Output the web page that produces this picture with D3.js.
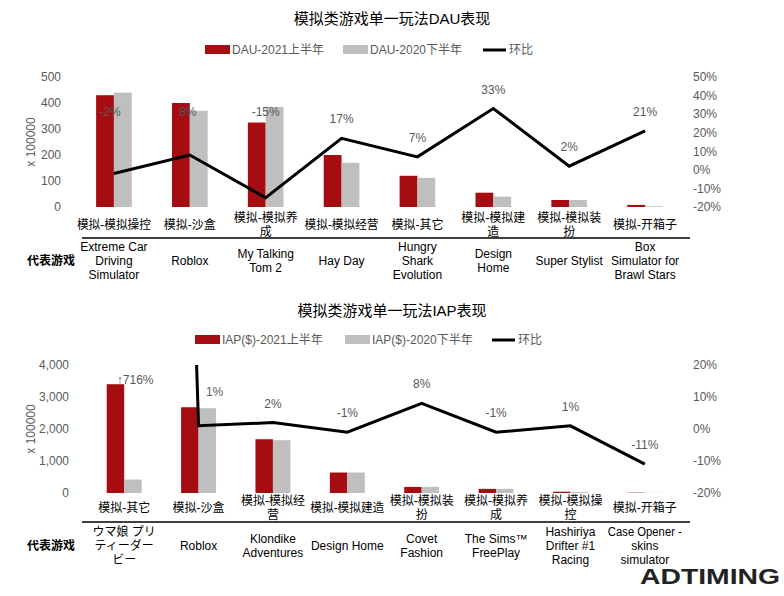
<!DOCTYPE html><html><head><meta charset="utf-8">
<script src="https://cdn.jsdelivr.net/npm/d3@7"></script>
<style>body{margin:0;background:#fff}text{font-family:"Liberation Sans","Noto Sans CJK SC",sans-serif}</style></head><body>
<svg id="c" width="784" height="596"></svg>
<script>
const dauCats=["模拟-模拟操控","模拟-沙盒","模拟-模拟养\n成","模拟-模拟经营","模拟-其它","模拟-模拟建\n造","模拟-模拟装\n扮","模拟-开箱子"];
const dauGames=[["Extreme Car","Driving","Simulator"],["Roblox"],["My Talking","Tom 2"],["Hay Day"],["Hungry","Shark","Evolution"],["Design","Home"],["Super Stylist"],["Box","Simulator for","Brawl Stars"]];
const dau2021=[430,400,325,200,120,55,27,8];
const dau2020=[440,370,385,170,112,40,27,3];
const dauRatio=[-2,8,-15,17,7,33,2,21];
const iapCats=["模拟-其它","模拟-沙盒","模拟-模拟经\n营","模拟-模拟建造","模拟-模拟装\n扮","模拟-模拟养\n成","模拟-模拟操\n控","模拟-开箱子"];
const iapGames=[["ウマ娘 プリ","ティーダー","ビー"],["Roblox"],["Klondike","Adventures"],["Design Home"],["Covet","Fashion"],["The Sims™","FreePlay"],["Hashiriya","Drifter #1","Racing"],["Case Opener -","skins","simulator"]];
const iap2021=[3400,2680,1680,640,190,130,40,10];
const iap2020=[420,2650,1650,640,190,130,30,5];
const iapRatio=[716,1,2,-1,8,-1,1,-11];
const dauTicks=[0,100,200,300,400,500], dauRTicks=[-20,-10,0,10,20,30,40,50];
const iapTicks=[0,1000,2000,3000,4000], iapRTicks=[-20,-10,0,10,20];

const svg=d3.select("#c");
const RED="#a50d12",GRAY="#bfbfbf",TXT="#595959";
function fit(sel,maxW){sel.each(function(){const w=this.getComputedTextLength();if(w>maxW){d3.select(this).attr("textLength",maxW).attr("lengthAdjust","spacingAndGlyphs");}});}
function panel(o){
 const g=svg.append("g");
 const x=d3.scaleBand().domain(d3.range(8)).range([o.x0,o.x1]).paddingInner(0.53).paddingOuter(0.265);
 const y=d3.scaleLinear().domain([0,o.max]).range([o.yb,o.yt]);
 const yr=d3.scaleLinear().domain(o.rdom).range([o.yb,o.yt]);
 g.append("text").attr("x",392).attr("y",o.ty).attr("text-anchor","middle").attr("font-size",15).attr("fill","#000").text(o.title);
 const L=o.leg;
 g.append("rect").attr("x",L[0]).attr("y",o.ly-5).attr("width",25).attr("height",9).attr("fill",RED);
 g.append("text").attr("x",L[0]+27).attr("y",o.ly+4).attr("font-size",12).attr("fill",TXT).text(o.l1);
 g.append("rect").attr("x",L[1]).attr("y",o.ly-5).attr("width",25).attr("height",9).attr("fill",GRAY);
 g.append("text").attr("x",L[1]+27).attr("y",o.ly+4).attr("font-size",12).attr("fill",TXT).text(o.l2);
 g.append("line").attr("x1",L[2]).attr("x2",L[2]+23).attr("y1",o.ly).attr("y2",o.ly).attr("stroke","#000").attr("stroke-width",3);
 g.append("text").attr("x",L[2]+26).attr("y",o.ly+4).attr("font-size",12).attr("fill",TXT).text("环比");
 const la=g.append("g").attr("transform",`translate(${o.ax},0)`).call(d3.axisLeft(y).tickValues(o.ticks).tickSize(0).tickFormat(d3.format(",")));
 la.select(".domain").remove(); la.selectAll("text").attr("font-size",12).attr("fill",TXT);
 const ra=g.append("g").attr("transform",`translate(${o.rx},0)`).call(d3.axisRight(yr).tickValues(o.rticks).tickSize(0).tickFormat(d=>d+"%"));
 ra.select(".domain").remove(); ra.selectAll("text").attr("font-size",12).attr("fill",TXT);
 g.append("text").attr("transform",`translate(35,${(o.yt+o.yb)/2}) rotate(-90)`).attr("text-anchor","middle").attr("font-size",12).attr("fill",TXT).text("x 100000");
 const bw=x.bandwidth()/2;
 g.selectAll(".r").data(o.a).join("rect").attr("x",(d,i)=>x(i)).attr("y",d=>y(d)).attr("width",bw).attr("height",d=>o.yb-y(d)).attr("fill",RED);
 g.selectAll(".g").data(o.b).join("rect").attr("x",(d,i)=>x(i)+bw).attr("y",d=>y(d)).attr("width",bw).attr("height",d=>o.yb-y(d)).attr("fill",GRAY);
 const cid="clip"+o.ty;
 svg.append("clipPath").attr("id",cid).append("rect").attr("x",0).attr("y",o.yt).attr("width",784).attr("height",o.yb-o.yt+20);
 const cx=i=>x(i)+x.bandwidth()/2;
 g.append("path").attr("clip-path",`url(#${cid})`).datum(o.r).attr("fill","none").attr("stroke","#000").attr("stroke-width",3).attr("d",d3.line().x((d,i)=>cx(i)).y(d=>yr(d)));
 o.r.forEach((v,i)=>{
  g.append("text").attr("x",cx(i)+o.ldx[i]).attr("y",o.lpos(v,i,yr)).attr("text-anchor","middle").attr("font-size",12).attr("fill",TXT).text((o.arrow&&i===0?"↑":"")+v+"%");
 });
 o.cats.forEach((c,i)=>{
  const lines=c.split("\n");
  lines.forEach((s,k)=>g.append("text").attr("class","cat").attr("x",cx(i)).attr("y",o.cy+(lines.length>1?-7:0)+k*14).attr("text-anchor","middle").attr("font-size",12).attr("fill","#000").text(s));
 });
 fit(g.selectAll(".cat"),74);
 g.append("line").attr("x1",82).attr("x2",690).attr("y1",o.sep).attr("y2",o.sep).attr("stroke","#000").attr("stroke-width",1.5);
 g.append("text").attr("x",27).attr("y",o.gy+14+4).attr("font-size",12).attr("font-weight","bold").attr("fill","#000").text("代表游戏");
 o.games.forEach((ls,i)=>{
  const start=o.gy+14-(ls.length-1)*7;
  ls.forEach((s,k)=>g.append("text").attr("class","gm").attr("x",cx(i)).attr("y",start+k*14+4).attr("text-anchor","middle").attr("font-size",12).attr("fill","#000").text(s));
 });
 fit(g.selectAll(".gm"),74);
}
panel({x0:76,x1:683,ax:64,yb:207,yt:77,max:500,rdom:[-20,50],rx:690,ticks:dauTicks,rticks:dauRTicks,a:dau2021,b:dau2020,r:dauRatio,
 title:"模拟类游戏单一玩法DAU表现",ty:24,ly:50,leg:[205,343,483],l1:"DAU-2021上半年",l2:"DAU-2020下半年",
 lpos:(v,i,yr)=>i<3?116:yr(v)-15,ldx:[-4,-2,0,0,0,0,0,0],
 cats:dauCats,cy:229,sep:238,games:dauGames,gy:247});
panel({x0:87,x1:682,ax:72,yb:493,yt:365,max:4000,rdom:[-20,20],rx:690,ticks:iapTicks,rticks:iapRTicks,a:iap2021,b:iap2020,r:iapRatio,arrow:true,
 title:"模拟类游戏单一玩法IAP表现",ty:316,ly:340,leg:[195,345,492],l1:"IAP($)-2021上半年",l2:"IAP($)-2020下半年",
 lpos:(v,i,yr)=>i===0?384:i===1?396:yr(v)-15,ldx:[11,16,0,0,0,0,0,0],
 cats:iapCats,cy:512,sep:522,games:iapGames,gy:532});
svg.append("text").attr("x",640).attr("y",584).attr("font-size",22).attr("font-weight","bold").attr("textLength",140).attr("lengthAdjust","spacingAndGlyphs").attr("fill","#222").text("ADTIMING");
</script></body></html>
